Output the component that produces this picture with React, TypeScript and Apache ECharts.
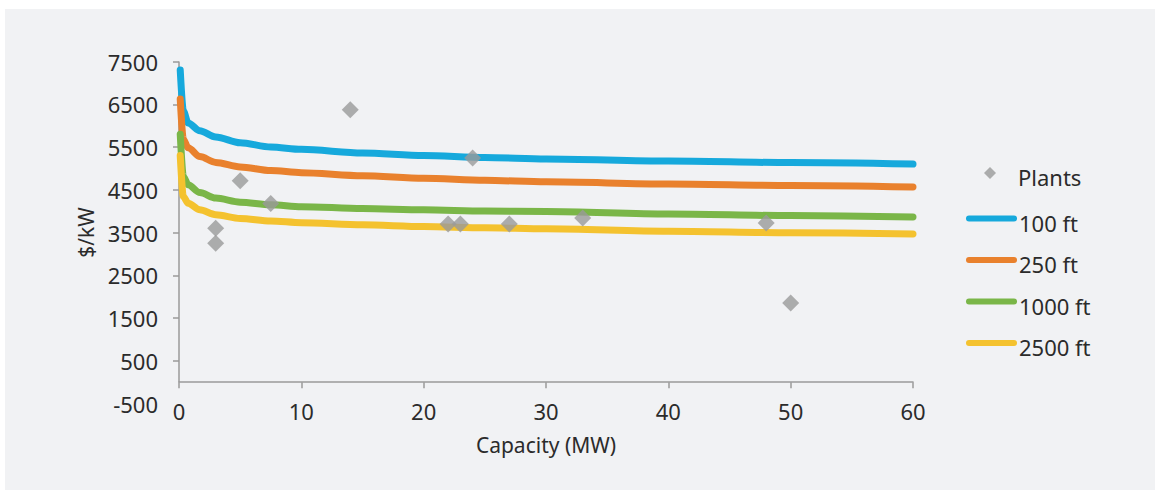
import React, { useEffect, useRef } from "react";
import * as echarts from "echarts";

const capacityMW = [0.1, 0.35, 0.75, 1.7, 3, 5, 7.5, 10, 15, 20, 25, 30, 40, 50, 60];
const cost100ft = [7300, 6350, 6060, 5880, 5735, 5600, 5500, 5445, 5360, 5300, 5255, 5220, 5170, 5135, 5100];
const cost250ft = [6620, 5680, 5480, 5275, 5140, 5035, 4950, 4900, 4830, 4770, 4720, 4685, 4635, 4600, 4565];
const cost1000ft = [5800, 4810, 4615, 4435, 4305, 4210, 4150, 4105, 4060, 4030, 4005, 3990, 3930, 3895, 3865];
const cost2500ft = [5300, 4340, 4185, 4030, 3915, 3830, 3770, 3730, 3680, 3640, 3610, 3585, 3530, 3495, 3465];

const plantCapacity = [3, 3, 5, 7.5, 14, 22, 23, 24, 27, 33, 48, 50];
const plantCost = [3600, 3250, 4710, 4180, 6370, 3700, 3700, 5245, 3700, 3840, 3725, 1850];

const yTickLabels = [-500, 500, 1500, 2500, 3500, 4500, 5500, 6500, 7500];
const yTickMarks = [500, 1500, 2500, 3500, 4500, 5500, 6500, 7500];

const seriesNames = ["100 ft", "250 ft", "1000 ft", "2500 ft"];
const seriesValues = [cost100ft, cost250ft, cost1000ft, cost2500ft];
const seriesColors = ["#16a9dc", "#e9812d", "#7ab648", "#f4c22f"];

const FONT = "Noto Sans";
const TEXT = "#2b2b2b";
const AXIS = "#9a9a9a";

export default function App() {
  const ref = useRef<HTMLDivElement>(null);
  useEffect(() => {
    if (!ref.current) return;
    const chart = echarts.init(ref.current, null, { renderer: "svg" });
    const lineSeries = seriesNames.map((name, i) => ({
      name,
      type: "line",
      data: capacityMW.map((x, j) => [x, seriesValues[i][j]]),
      symbol: "none",
      smooth: 0.3,
      smoothMonotone: "x",
      lineStyle: { color: seriesColors[i], width: 7, cap: "round", join: "round" },
      itemStyle: { color: seriesColors[i] },
      z: 2,
    }));
    const legendText = (padLeft: number) => ({
      fontFamily: FONT,
      fontSize: 22,
      color: TEXT,
      rich: {
        t: { fontFamily: FONT, fontSize: 22, color: TEXT, padding: [8, 0, 0, padLeft] },
      },
    });
    chart.setOption({
      animation: false,
      backgroundColor: "#ffffff",
      textStyle: { fontFamily: FONT },
      graphic: [
        {
          type: "rect",
          z: -10,
          silent: true,
          shape: { x: 5, y: 9, width: 1150, height: 481 },
          style: { fill: "#f1f2f4" },
        },
      ],
      grid: { left: 179, right: 242, top: 61.5, bottom: 89.5 },
      legend: [
        {
          orient: "vertical",
          left: 979,
          top: 161,
          itemWidth: 12,
          itemHeight: 12,
          formatter: "{t|{name}}",
          textStyle: legendText(17),
          data: [{ name: "Plants", icon: "diamond" }],
        },
        {
          orient: "vertical",
          left: 961,
          top: 206.5,
          itemWidth: 45,
          itemHeight: 12,
          itemGap: 19.5,
          formatter: "{t|{name}}",
          textStyle: legendText(0),
          data: seriesNames.map((n, i) => ({
            name: n,
            itemStyle: { opacity: 0 },
            lineStyle: { color: seriesColors[i], width: 6, cap: "round" },
          })),
        },
      ],
      xAxis: {
        type: "value",
        min: 0,
        max: 60,
        interval: 10,
        name: "Capacity (MW)",
        nameLocation: "middle",
        nameGap: 31,
        nameTextStyle: { fontFamily: FONT, fontSize: 21, color: TEXT },
        axisLine: { show: true, onZero: true, lineStyle: { color: AXIS, width: 1.5 } },
        axisTick: { show: true, length: 6, lineStyle: { color: AXIS, width: 1.5 } },
        axisLabel: { margin: -4, fontFamily: FONT, fontSize: 22, color: TEXT },
        splitLine: { show: false },
      },
      yAxis: {
        type: "value",
        min: -500,
        max: 7500,
        interval: 500,
        name: "$/kW",
        nameLocation: "middle",
        nameGap: 82,
        nameTextStyle: { fontFamily: FONT, fontSize: 21, color: TEXT },
        axisLine: { show: false },
        axisTick: {
          show: true,
          length: 6,
          customValues: yTickMarks,
          lineStyle: { color: AXIS, width: 1.5 },
        },
        axisLabel: {
          margin: 21,
          customValues: yTickLabels,
          fontFamily: FONT,
          fontSize: 22,
          color: TEXT,
          formatter: (v: number) => String(v),
        },
        splitLine: { show: false },
      },
      series: [
        ...lineSeries,
        {
          name: "Plants",
          type: "scatter",
          symbol: "diamond",
          symbolSize: 17,
          itemStyle: { color: "#9a9a9a" },
          data: plantCapacity.map((x, j) => [x, plantCost[j]]),
          z: 5,
          markLine: {
            silent: true,
            symbol: "none",
            label: { show: false },
            lineStyle: { color: AXIS, width: 1.5, type: "solid" },
            data: [[{ coord: [0, 0] }, { coord: [0, 7500] }]],
            z: 1,
          },
        },
      ],
    });
    return () => chart.dispose();
  }, []);
  return (
    <div
      ref={ref}
      style={{ position: "absolute", left: 0, top: 0, width: 1155, height: 493 }}
    />
  );
}
